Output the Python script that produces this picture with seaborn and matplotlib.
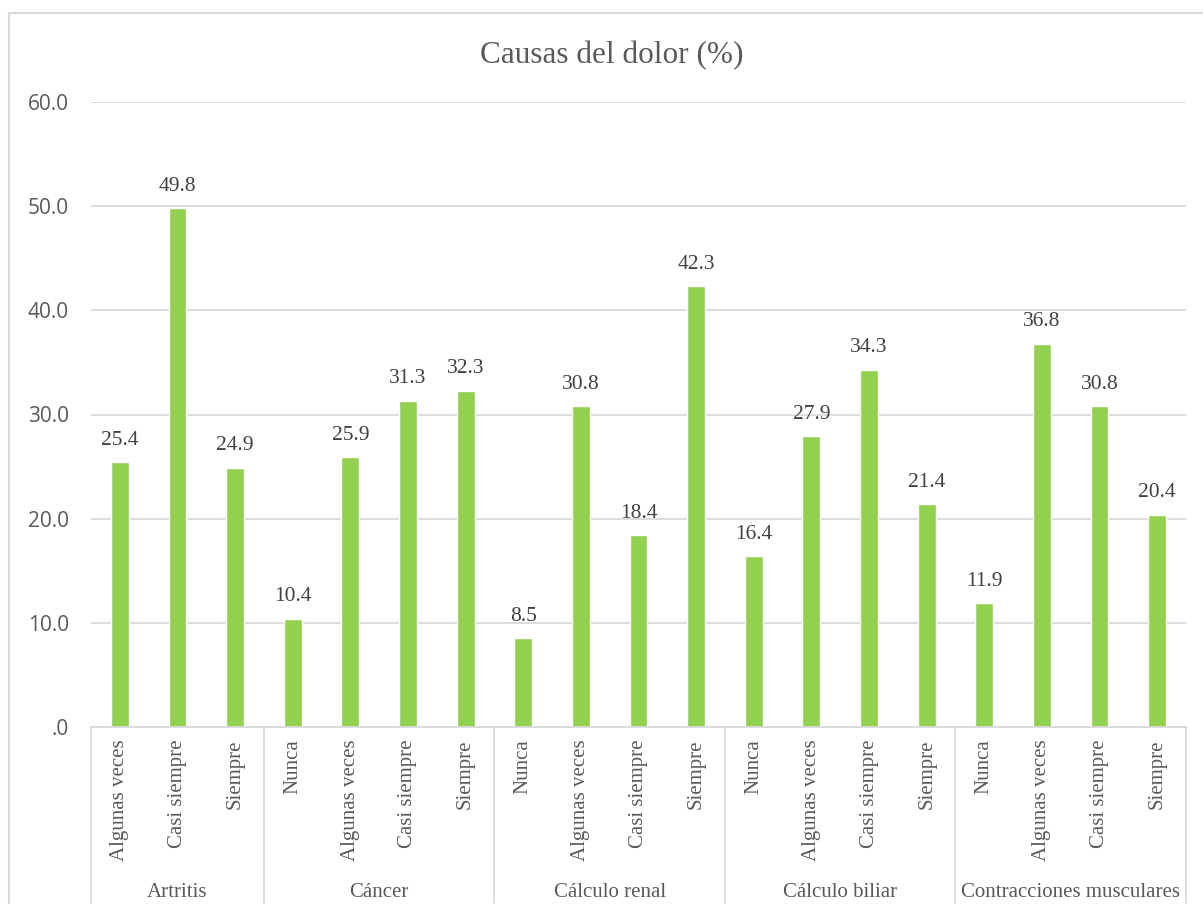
import matplotlib
matplotlib.use("Agg")
import matplotlib.pyplot as plt
import matplotlib.transforms as mtransforms
from matplotlib.lines import Line2D
from matplotlib.ticker import FuncFormatter
import seaborn as sns
import pandas as pd

# Causas del dolor y frecuencias (%)
causas = ["Artritis", "Cáncer", "Cálculo renal", "Cálculo biliar", "Contracciones musculares"]
frec_artritis = ["Algunas veces", "Casi siempre", "Siempre"]
frec_general = ["Nunca", "Algunas veces", "Casi siempre", "Siempre"]
val_artritis = [25.4, 49.8, 24.9]
val_cancer = [10.4, 25.9, 31.3, 32.3]
val_renal = [8.5, 30.8, 18.4, 42.3]
val_biliar = [16.4, 27.9, 34.3, 21.4]
val_contracciones = [11.9, 36.8, 30.8, 20.4]
y_ticks = [0, 10, 20, 30, 40, 50, 60]

frecuencias = [frec_artritis, frec_general, frec_general, frec_general, frec_general]
valores = [val_artritis, val_cancer, val_renal, val_biliar, val_contracciones]

rows = []
for causa, frs, vals in zip(causas, frecuencias, valores):
    for f, v in zip(frs, vals):
        rows.append({"causa": causa, "frecuencia": f, "clave": f"{causa}|{f}", "valor": v})
df = pd.DataFrame(rows)
orden = list(df["clave"])

sns.set_theme(style="white")
plt.rcParams["font.family"] = ["Liberation Serif", "DejaVu Serif"]

GRIS = "#d9d9d9"
TEXTO = "#595959"
W, H = 1203, 909

fig = plt.figure(figsize=(W / 100, H / 100), dpi=100)
ax = fig.add_axes([91 / W, (H - 727) / H, 1095 / W, 625 / H])

sns.barplot(data=df, x="clave", y="valor", order=orden, color="#92D050",
            saturation=1, width=0.31, errorbar=None, ax=ax)

ax.set_xlim(-0.5, len(orden) - 0.5)
ax.set_ylim(0, 60)
ax.set_yticks(y_ticks)
ax.yaxis.set_major_formatter(FuncFormatter(lambda v, p: ".0" if v == 0 else f"{v:.1f}"))
ax.grid(axis="y", color=GRIS, lw=1.3)
ax.grid(axis="x", visible=False)
ax.set_axisbelow(True)
for s in ["top", "right", "left"]:
    ax.spines[s].set_visible(False)
ax.spines["bottom"].set_color(GRIS)
ax.spines["bottom"].set_linewidth(1.3)
ax.set_xlabel("")
ax.set_ylabel("")

ax.set_xticks(range(len(orden)))
ax.set_xticklabels(df["frecuencia"], rotation=90, fontsize=15, color=TEXTO,
                   family=["Liberation Serif"])
ax.tick_params(axis="x", length=0, pad=9)
ax.tick_params(axis="y", length=0, pad=16, labelsize=15, labelcolor=TEXTO)
for lab in ax.get_yticklabels():
    lab.set_family(["Open Sans"])

for cont in ax.containers:
    ax.bar_label(cont, fmt="%.1f", padding=9, fontsize=15.5, color="#404040",
                 family=["Liberation Serif"])

# Eje de categorías de dos niveles
trans = mtransforms.blended_transform_factory(ax.transData, ax.transAxes)
limites = [-0.5]
inicio = 0
for causa, frs in zip(causas, frecuencias):
    fin = inicio + len(frs)
    limites.append(fin - 0.5)
    ax.text((inicio + fin - 1) / 2, -0.272, causa, transform=trans, ha="center",
            va="baseline", fontsize=15, color=TEXTO)
    inicio = fin
for x in limites:
    ax.plot([x, x], [0, -0.2816], transform=trans, clip_on=False, color=GRIS, lw=1.3)

fig.text(611.5 / W, (H - 63) / H, "Causas del dolor (%)", ha="center", va="baseline",
         fontsize=22.5, color=TEXTO)

# Marco del gráfico
fig.add_artist(Line2D([9 / W, 1], [(H - 13) / H] * 2, transform=fig.transFigure,
                      color=GRIS, lw=1.5))
fig.add_artist(Line2D([9 / W] * 2, [(H - 13) / H, (H - 903) / H], transform=fig.transFigure,
                      color=GRIS, lw=1.5))

fig.savefig("out.png", dpi=100, facecolor="white")
